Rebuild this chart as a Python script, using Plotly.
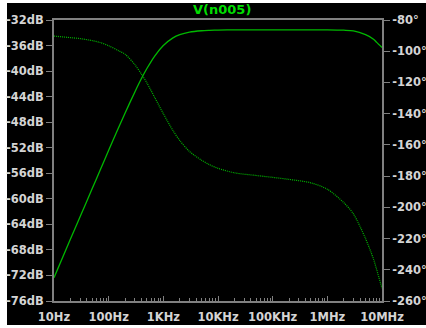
import plotly.graph_objects as go

freq = [10, 20, 30, 50, 70, 100, 150, 200, 300, 400, 500, 700, 1000, 1500, 2000,
        3000, 5000, 7000, 1e4, 2e4, 5e4, 1e5, 2e5, 5e5, 1e6, 2e6, 3e6, 5e6, 7e6, 8e6, 1e7]
mag_db = [-72.35, -66.3, -62.8, -58.4, -55.5, -52.4, -48.95, -46.55, -43.3, -41.13,
          -39.6, -37.6, -36.0, -34.8, -34.3, -33.9, -33.68, -33.62, -33.58, -33.55,
          -33.55, -33.55, -33.55, -33.55, -33.55, -33.6, -33.7, -34.3, -35.0, -35.5, -36.3]
phase_deg = [-90.3, -91.3, -91.9, -93.2, -94.4, -96.5, -99.6, -102.0, -108.5, -114.8,
             -120.3, -129.8, -140.0, -150.8, -157.2, -164.2, -169.8, -172.7, -175.0,
             -177.9, -179.6, -180.8, -182.1, -184.3, -188.4, -197.0, -204.2, -220.0,
             -233.2, -240.0, -251.8]

x_tickvals = [10, 100, 1000, 1e4, 1e5, 1e6, 1e7]
x_ticktext = ["10Hz", "100Hz", "1KHz", "10KHz", "100KHz", "1MHz", "10MHz"]
x_minor = [m * 10 ** d for d in range(1, 7) for m in range(2, 10)]
db_ticks = list(range(-76, -31, 4))
ph_ticks = list(range(-260, -79, 20))
title_text = "V(n005)"

line_col = "#00b800"
axis_col = "#808080"
lab_col = "#d4d4d4"
lab_font = dict(family="DejaVu Sans", size=11.5, color=lab_col, weight="bold")

fig = go.Figure()
fig.add_trace(go.Scatter(x=freq, y=mag_db, mode="lines",
                         line=dict(color=line_col, width=1.3, shape="spline", smoothing=0.8),
                         yaxis="y", showlegend=False))
fig.add_trace(go.Scatter(x=freq, y=phase_deg, mode="lines",
                         line=dict(color=line_col, width=1.2, dash="1px,1px", shape="spline", smoothing=0.8),
                         yaxis="y2", showlegend=False))

W, H = 426, 328
L, R, T, B = 54, 44, 20, 27
pw, ph = W - L - R, H - T - B

def px(xp):
    return (xp - L) / pw

def py(yp):
    return (H - B - yp) / ph

fig.add_shape(type="rect", xref="paper", yref="paper",
              x0=px(7), x1=px(430), y0=py(325), y1=py(3),
              fillcolor="black", line=dict(width=0), layer="below")

fig.add_annotation(text=title_text, xref="paper", yref="paper",
                   x=px(222), y=py(10), showarrow=False, xanchor="center", yanchor="middle",
                   font=dict(family="DejaVu Sans", size=13, color="#00dd00", weight="bold"))

fig.update_layout(
    width=W, height=H,
    margin=dict(l=L, r=R, t=T, b=B, autoexpand=False),
    paper_bgcolor="white",
    plot_bgcolor="black",
    xaxis=dict(type="log", range=[1, 7], tickvals=x_tickvals, ticktext=x_ticktext,
               ticks="inside", ticklen=5, tickcolor=axis_col, tickwidth=1,
               minor=dict(tickvals=x_minor, ticks="inside", ticklen=3, tickcolor=axis_col),
               showgrid=False, zeroline=False, showline=True, linecolor=axis_col, linewidth=2,
               mirror=True, tickfont=lab_font, ticklabelstandoff=4, automargin=False),
    yaxis=dict(range=[-76, -32], tickvals=db_ticks, ticktext=[f"{v}dB" for v in db_ticks],
               ticks="outside", ticklen=6, tickcolor=axis_col, showgrid=False, zeroline=False,
               showline=True, linecolor=axis_col, linewidth=2, tickfont=lab_font, automargin=False),
    yaxis2=dict(range=[-260, -80], tickvals=ph_ticks, ticktext=[f"{v}°" for v in ph_ticks],
                overlaying="y", side="right", anchor="x",
                ticks="outside", ticklen=6, tickcolor=axis_col, showgrid=False, zeroline=False,
                showline=True, linecolor=axis_col, linewidth=2, tickfont=lab_font, automargin=False),
)

fig.write_html("out.html")
